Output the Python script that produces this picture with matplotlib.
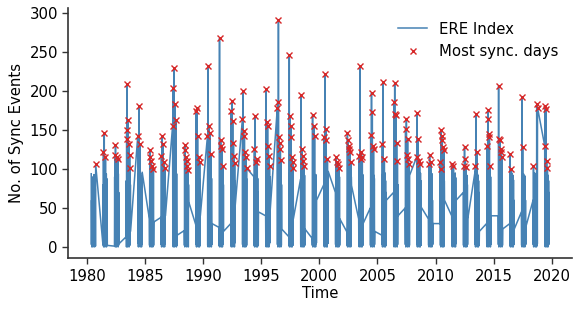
import numpy as np
import matplotlib
matplotlib.use("Agg")
import matplotlib.pyplot as plt

# Monsoon-season ERE index values (roughly late May - early Oct each year)
ere_1980 = [94, 3, 60, 0, 85, 5, 72, 2, 90, 0, 70, 4, 88, 1, 93, 6, 80, 0, 91, 3, 75, 1, 106]
ere_1981 = [4, 80, 2, 122, 0, 90, 6, 146, 3, 75, 0, 92, 4, 115, 5, 85, 1, 94, 0, 88, 3, 70, 2]
ere_1982 = [1, 90, 3, 118, 0, 131, 5, 95, 2, 86, 0, 116, 4, 92, 1, 88, 3, 113, 0, 94, 2, 70, 4]
ere_1983 = [13, 85, 0, 150, 4, 209, 2, 139, 0, 93, 5, 163, 1, 92, 3, 132, 0, 96, 4, 118, 2, 102, 6, 80, 20]
ere_1984 = [142, 5, 90, 0, 94, 3, 181, 1, 85, 4, 132, 0, 95, 2, 88, 5, 91, 0, 84, 3, 96]
ere_1985 = [36, 2, 116, 0, 125, 6, 90, 1, 94, 3, 110, 0, 88, 5, 104, 2, 92, 0, 96, 4, 100, 2, 32]
ere_1986 = [38, 3, 117, 0, 95, 4, 142, 1, 90, 5, 132, 0, 93, 3, 109, 1, 88, 0, 102, 4, 80, 40]
ere_1987 = [156, 4, 204, 0, 92, 2, 230, 5, 90, 0, 183, 3, 95, 1, 163, 4, 89, 0, 94, 2, 15]
ere_1988 = [21, 2, 125, 0, 131, 3, 94, 5, 116, 1, 90, 4, 110, 0, 96, 3, 104, 1, 92, 4, 99, 0, 80, 58]
ere_1989 = [28, 3, 174, 0, 179, 5, 93, 1, 142, 4, 90, 0, 95, 2, 115, 5, 88, 0, 109, 2, 85, 40]
ere_1990 = [143, 2, 233, 0, 90, 4, 95, 1, 156, 5, 92, 0, 147, 3, 89, 1, 119, 4, 94, 0, 88, 3, 30]
ere_1991 = [25, 1, 268, 0, 95, 3, 92, 2, 137, 5, 90, 0, 130, 4, 94, 1, 126, 0, 93, 3, 104, 4, 80, 20]
ere_1992 = [30, 2, 175, 0, 93, 4, 188, 1, 90, 3, 162, 0, 96, 5, 134, 1, 91, 3, 117, 0, 108, 5, 85, 53]
ere_1993 = [164, 3, 200, 0, 94, 5, 149, 1, 90, 4, 143, 0, 95, 2, 122, 5, 92, 0, 115, 3, 88, 2, 101]
ere_1994 = [90, 2, 126, 0, 94, 4, 168, 1, 85, 3, 92, 0, 109, 5, 90, 2, 113, 0, 88, 4, 70, 2, 45]
ere_1995 = [40, 2, 203, 0, 93, 4, 160, 1, 90, 3, 156, 0, 95, 5, 130, 1, 92, 0, 117, 3, 104, 5, 90, 45]
ere_1996 = [178, 3, 186, 0, 94, 4, 292, 1, 92, 5, 141, 0, 134, 3, 96, 1, 126, 4, 90, 0, 112, 2, 80, 23]
ere_1997 = [13, 2, 247, 0, 95, 3, 168, 1, 92, 4, 156, 0, 141, 5, 90, 2, 115, 0, 94, 3, 109, 2, 102, 36]
ere_1998 = [87, 3, 195, 0, 93, 4, 126, 1, 90, 5, 117, 0, 95, 2, 111, 4, 88, 0, 104, 3, 92, 2, 23]
ere_1999 = [11, 2, 169, 0, 90, 4, 94, 1, 155, 3, 88, 0, 143, 5, 92, 1, 85, 0, 93, 4, 70, 5, 60]
ere_2000 = [80, 2, 141, 0, 93, 4, 222, 1, 90, 3, 137, 0, 151, 5, 94, 2, 88, 0, 113, 4, 91, 5, 97]
ere_2001 = [70, 3, 115, 0, 90, 4, 94, 1, 109, 5, 88, 0, 107, 3, 92, 1, 85, 0, 102, 4, 90, 2, 36]
ere_2002 = [19, 2, 147, 0, 94, 4, 137, 1, 90, 5, 130, 0, 126, 3, 93, 1, 122, 4, 88, 0, 109, 3, 90, 79]
ere_2003 = [36, 3, 117, 0, 94, 4, 232, 1, 90, 5, 113, 0, 92, 3, 122, 1, 88, 0, 115, 4, 93, 2, 30]
ere_2004 = [50, 2, 144, 0, 93, 4, 198, 1, 90, 5, 173, 0, 95, 3, 130, 1, 126, 4, 92, 0, 88, 3, 20]
ere_2005 = [15, 3, 132, 0, 94, 4, 212, 1, 90, 5, 92, 0, 113, 3, 88, 1, 95, 0, 85, 4, 70, 2, 60]
ere_2006 = [70, 2, 186, 0, 93, 4, 210, 1, 171, 5, 90, 0, 169, 3, 94, 1, 134, 4, 88, 0, 111, 3, 80, 40]
ere_2007 = [50, 3, 152, 0, 93, 4, 165, 1, 118, 5, 90, 0, 139, 3, 95, 1, 113, 4, 88, 0, 107, 2, 92]
ere_2008 = [116, 3, 172, 0, 94, 4, 139, 1, 90, 5, 111, 0, 93, 3, 107, 1, 88, 0, 95, 4, 85, 2, 51]
ere_2009 = [36, 2, 107, 0, 93, 4, 118, 1, 85, 5, 90, 0, 109, 3, 92, 1, 88, 0, 94, 4, 60, 3, 30]
ere_2010 = [30, 109, 2, 100, 0, 150, 4, 93, 1, 143, 5, 137, 0, 90, 3, 128, 1, 94, 0, 124, 4, 85, 60]
ere_2011 = [40, 2, 107, 0, 90, 4, 94, 1, 104, 5, 88, 0, 92, 3, 85, 1, 95, 0, 89, 4, 60]
ere_2012 = [70, 2, 104, 0, 93, 4, 128, 1, 90, 5, 113, 0, 95, 3, 103, 1, 88, 0, 92, 4, 80, 3, 36]
ere_2013 = [96, 3, 104, 0, 93, 4, 171, 1, 90, 5, 122, 0, 94, 3, 88, 1, 92, 0, 85, 4, 70, 2, 20]
ere_2014 = [30, 2, 130, 0, 93, 4, 164, 1, 176, 5, 90, 0, 145, 3, 141, 1, 94, 4, 104, 0, 90, 3, 40]
ere_2015 = [40, 3, 207, 0, 94, 4, 139, 1, 90, 5, 137, 0, 126, 3, 95, 1, 122, 4, 116, 0, 88, 2, 23]
ere_2016 = [30, 2, 119, 0, 93, 4, 85, 1, 100, 5, 90, 0, 94, 3, 88, 1, 92, 0, 86, 4, 60, 3, 23]
ere_2017 = [45, 2, 192, 0, 93, 4, 129, 1, 90, 5, 94, 0, 88, 3, 92, 1, 85, 0, 91, 4, 60, 3, 26]
ere_2018 = [60, 3, 104, 0, 93, 4, 90, 1, 95, 5, 88, 0, 92, 3, 94, 1, 89, 0, 183, 2, 90, 4, 179]
ere_2019 = [130, 2, 181, 0, 94, 4, 177, 1, 90, 5, 111, 0, 93, 3, 102, 1, 88, 0, 92, 4, 85, 3, 70, 10]

season_values = [
    ere_1980, ere_1981, ere_1982, ere_1983, ere_1984, ere_1985, ere_1986, ere_1987,
    ere_1988, ere_1989, ere_1990, ere_1991, ere_1992, ere_1993, ere_1994, ere_1995,
    ere_1996, ere_1997, ere_1998, ere_1999, ere_2000, ere_2001, ere_2002, ere_2003,
    ere_2004, ere_2005, ere_2006, ere_2007, ere_2008, ere_2009, ere_2010, ere_2011,
    ere_2012, ere_2013, ere_2014, ere_2015, ere_2016, ere_2017, ere_2018, ere_2019,
]
years = list(range(1980, 2020))

SEASON_START = 142   # day of year
SEASON_LEN = 140     # days
SYNC_MIN = 98        # days above this count as "most sync."

# build decimal-year time axis
t, v = [], []
for yr, vals in zip(years, season_values):
    days = np.linspace(SEASON_START, SEASON_START + SEASON_LEN, len(vals))
    t.extend(yr + days / 365.25)
    v.extend(vals)
t = np.array(t)
v = np.array(v)
sync = v >= SYNC_MIN

fig = plt.figure(figsize=(5.81, 3.13), dpi=100)
ax = fig.add_axes([0.1176, 0.1748, 0.867, 0.7987])

ax.plot(t, v, color="steelblue", lw=1.1, label="ERE Index")
ax.plot(t[sync], v[sync], "x", color="#d62728", ms=4.5, mew=1.0,
        label="Most sync. days")

ax.set_xticks(range(1980, 2021, 5))
ax.set_yticks(range(0, 301, 50))
ax.set_xlabel("Time", fontsize=10.7, labelpad=2)
ax.set_ylabel("No. of Sync Events", fontsize=10.7)
ax.tick_params(labelsize=10.7, length=4, width=1.0, color="#333333")

for side in ["top", "right"]:
    ax.spines[side].set_visible(False)
for side in ["left", "bottom"]:
    ax.spines[side].set_color("#333333")
    ax.spines[side].set_linewidth(1.2)

ax.legend(loc="upper right", frameon=False, fontsize=10.7)

fig.savefig("out.png", dpi=100)
plt.close(fig)
